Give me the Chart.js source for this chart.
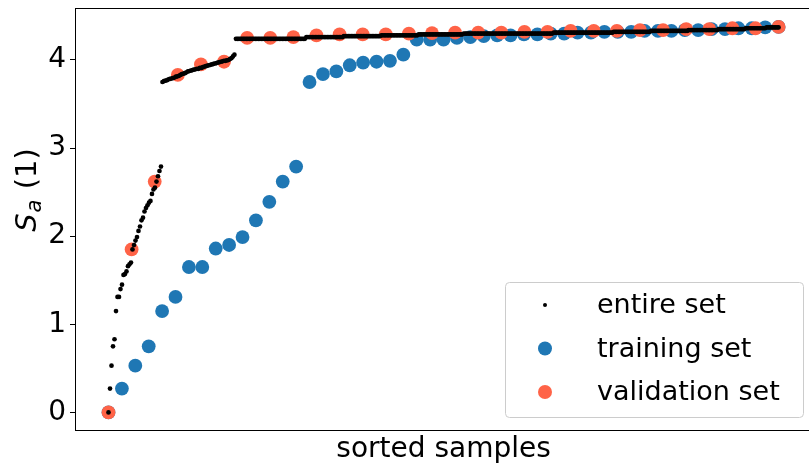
<!DOCTYPE html>
<html lang="en">
<head>
<meta charset="UTF-8">
<title>sorted samples</title>
<script src="https://cdn.jsdelivr.net/npm/chart.js"></script>
<style>
  html, body { margin: 0; padding: 0; background: #fff; overflow: hidden; }
  #wrap { width: 819px; height: 465px; }
</style>
</head>
<body>
<div id="wrap"><canvas id="grafico" width="819" height="465"></canvas></div>
<script>
// entire set, sorted, split in its three pieces
const entireLow = [0, 0.27, 0.53, 0.75, 0.83, 1.15, 1.31, 1.31, 1.40, 1.45, 1.56, 1.57, 1.60, 1.66, 1.68, 1.70,
  1.85, 1.90, 1.95, 1.99, 2.06, 2.11, 2.18, 2.21, 2.28, 2.32, 2.35, 2.38, 2.40, 2.48, 2.53, 2.55, 2.62, 2.68, 2.74, 2.79];
const entireMid = [3.75, 3.76, 3.765, 3.77, 3.78, 3.785, 3.79, 3.795, 3.80, 3.81, 3.815, 3.82, 3.83, 3.84, 3.845,
  3.85, 3.86, 3.87, 3.875, 3.88, 3.885, 3.89, 3.895, 3.90, 3.90, 3.91, 3.91, 3.92, 3.925, 3.93, 3.935, 3.94, 3.945,
  3.95, 3.955, 3.96, 3.965, 3.97, 3.975, 3.98, 3.985, 3.99, 3.99, 3.995, 4.00, 4.01, 4.02, 4.04, 4.06];
// the flat top part is a thick line, so it is kept as [value, how many samples]
const entireHighSteps = [[4.24, 47], [4.26, 25], [4.27, 25], [4.28, 25], [4.29, 30], [4.30, 60], [4.31, 40],
  [4.32, 25], [4.33, 25], [4.34, 20], [4.35, 18], [4.36, 14], [4.37, 9]];

const trainValues = [0, 0.27, 0.53, 0.75, 1.15, 1.31, 1.65, 1.65, 1.86, 1.90, 1.99, 2.18, 2.39, 2.62, 2.79,
  3.75, 3.84, 3.87, 3.94, 3.97, 3.98, 3.99, 4.06, 4.23, 4.23, 4.23, 4.25, 4.26, 4.27, 4.28, 4.28, 4.29, 4.29,
  4.30, 4.30, 4.31, 4.31, 4.32, 4.32, 4.32, 4.33, 4.33, 4.33, 4.34, 4.34, 4.35, 4.35, 4.36, 4.36, 4.37, 4.375];
const validValues = [0, 1.85, 2.62, 3.83, 3.95, 3.98, 4.25, 4.25, 4.26, 4.28, 4.29, 4.29, 4.29, 4.30, 4.305,
  4.31, 4.31, 4.31, 4.32, 4.32, 4.33, 4.33, 4.33, 4.34, 4.34, 4.35, 4.35, 4.36, 4.36, 4.375];

const yTicks = [0, 1, 2, 3, 4];
const legendLabels = ['entire set', 'training set', 'validation set'];
const xTitle = 'sorted samples';

const azul = '#1f77b4';
const vermelho = '#ff6347';
const fonte = '"DejaVu Sans", sans-serif';

let entireValues = entireLow.concat(entireMid);
entireHighSteps.forEach(function (s) {
  for (let k = 0; k < s[1]; k++) entireValues.push(s[0]);
});

// every set is spread over the same 0..1 axis, in sorted order
function pontos(vals) {
  return vals.map(function (v, i) { return { x: i / (vals.length - 1), y: v }; });
}

const moldura = {
  id: 'moldura',
  afterDraw(chart) {
    const c = chart.ctx;
    const a = chart.chartArea;
    c.save();
    // frame
    c.strokeStyle = '#000';
    c.lineWidth = 1;
    c.strokeRect(a.left + 0.5, a.top + 0.5, a.right - a.left, a.bottom - a.top);

    // legend
    const lx = 505.5, ly = 282.5, lw = 298, lh = 135;
    c.beginPath();
    c.roundRect(lx, ly, lw, lh, 4);
    c.fillStyle = 'rgba(255,255,255,0.8)';
    c.fill();
    c.strokeStyle = '#cccccc';
    c.stroke();
    const cores = ['#000', azul, vermelho];
    const raios = [2, 7, 7];
    c.font = '27px ' + fonte;
    c.textBaseline = 'middle';
    c.textAlign = 'left';
    legendLabels.forEach(function (t, i) {
      const yy = 305 + i * 43.5;
      c.beginPath();
      c.arc(545, yy, raios[i], 0, Math.PI * 2);
      c.fillStyle = cores[i];
      c.fill();
      c.fillStyle = '#000';
      c.fillText(t, 597, yy + 1);
    });

    // x title
    c.textAlign = 'center';
    c.textBaseline = 'alphabetic';
    c.font = '28px ' + fonte;
    c.fillText(xTitle, (a.left + a.right) / 2, 457);

    // y title: S_a (1)
    c.translate(36, 191);
    c.rotate(-Math.PI / 2);
    const fS = 'italic 29px ' + fonte, fa = 'italic 21px ' + fonte, fr = '29px ' + fonte;
    c.font = fS; const wS = c.measureText('S').width;
    c.font = fa; const wa = c.measureText('a').width;
    c.font = fr; const wr = c.measureText(' (1)').width;
    let x0 = -(wS + wa + wr) / 2;
    c.textAlign = 'left';
    c.font = fS; c.fillText('S', x0, 0);
    c.font = fa; c.fillText('a', x0 + wS + 1, 5);
    c.font = fr; c.fillText(' (1)', x0 + wS + wa + 2, 0);
    c.restore();
  }
};

new Chart(document.getElementById('grafico'), {
  type: 'scatter',
  data: {
    datasets: [
      { label: legendLabels[0], data: pontos(entireValues), backgroundColor: '#000', pointRadius: 2.35, borderWidth: 0, order: 0 },
      { label: legendLabels[1], data: pontos(trainValues), backgroundColor: azul, pointRadius: 6.9, borderWidth: 0, order: 2 },
      { label: legendLabels[2], data: pontos(validValues), backgroundColor: vermelho, pointRadius: 6.9, borderWidth: 0, order: 1 }
    ]
  },
  options: {
    responsive: false,
    animation: false,
    layout: { padding: { top: 8, left: 0, right: 0, bottom: 0 } },
    plugins: { legend: { display: false }, tooltip: { enabled: false } },
    scales: {
      x: {
        type: 'linear', min: -0.05, max: 1.05,
        ticks: { display: false },
        grid: { display: false },
        border: { display: false },
        afterFit(s) { s.height = 35; s.paddingLeft = 0; s.paddingRight = 0; }
      },
      y: {
        min: -0.2, max: 4.59,
        afterBuildTicks(s) { s.ticks = yTicks.map(function (v) { return { value: v }; }); },
        ticks: { color: '#000', font: { family: 'DejaVu Sans', size: 28 }, padding: 4 },
        grid: { drawOnChartArea: false, drawTicks: true, tickLength: 5, color: '#000', lineWidth: 1 },
        border: { display: false },
        afterFit(s) { s.width = 75; s.paddingTop = 0; s.paddingBottom = 0; }
      }
    }
  },
  plugins: [moldura]
});
</script>
</body>
</html>
